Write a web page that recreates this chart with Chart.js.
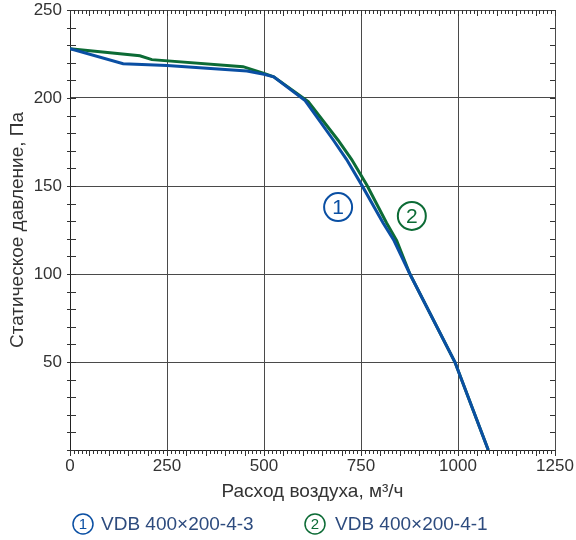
<!DOCTYPE html>
<html><head><meta charset="utf-8">
<script src="https://cdn.jsdelivr.net/npm/chart.js@4.4.1/dist/chart.umd.min.js"></script>
<style>html,body{margin:0;padding:0;background:#fff;}#wrap{width:576px;height:540px;}</style>
</head><body><div id="wrap"><canvas id="c" width="576" height="540"></canvas></div>
<script>
// ---- data ----
const xTicks = [0, 250, 500, 750, 1000, 1250];
const yTicks = [0, 50, 100, 150, 200, 250];
const flow1 = [0, 137, 250, 456, 500, 525, 606, 679, 713, 752, 807, 835, 876, 992, 1078];
const pres1 = [228, 219.5, 218.5, 215.3, 213.5, 212, 198.5, 176, 165, 150.5, 129, 119, 100, 50, 0];
const flow2 = [0, 180, 211, 446, 500, 525, 614, 691, 726, 765, 816, 842, 876, 992, 1078];
const pres2 = [228, 224, 221.8, 217.8, 214, 212, 198, 176, 165, 150.6, 129, 119, 100, 50, 0];
const seriesNames = ['VDB 400×200-4-3', 'VDB 400×200-4-1'];
const seriesMarks = ['1', '2'];
const xTitle = 'Расход воздуха, м³/ч';
const yTitle = 'Статическое давление, Па';

const BLUE = '#0a4fa3', GREEN = '#0c6b35';
Chart.defaults.font.family = '"Liberation Sans", Arial, sans-serif';

function circledMark(ctx, cx, cy, r, digit, color, lw, fs) {
  ctx.save();
  ctx.strokeStyle = color; ctx.lineWidth = lw;
  ctx.beginPath(); ctx.arc(cx, cy, r, 0, Math.PI * 2); ctx.stroke();
  ctx.fillStyle = color;
  ctx.font = fs + 'px "Liberation Sans", Arial, sans-serif';
  ctx.textAlign = 'center'; ctx.textBaseline = 'middle';
  ctx.fillText(digit, cx, cy + 1);
  ctx.restore();
}

const decor = {
  id: 'decor',
  afterDraw(chart) {
    const {ctx, chartArea: a, scales: {x, y}} = chart;
    ctx.save();
    ctx.strokeStyle = '#333'; ctx.lineWidth = 1;
    ctx.beginPath();
    for (let v = 0; v <= 1250; v += 10) {
      const px = Math.round(x.getPixelForValue(v)) + 0.5;
      const L = (v % 50 === 0) ? 6 : 4;
      ctx.moveTo(px, a.bottom); ctx.lineTo(px, a.bottom + L);
      ctx.moveTo(px, a.top); ctx.lineTo(px, a.top + L);
    }
    for (let v = 0; v <= 250; v += 10) {
      const py = Math.round(y.getPixelForValue(v)) + 0.5;
      ctx.moveTo(a.left - 3, py); ctx.lineTo(a.left + 6, py);
      ctx.moveTo(a.right, py); ctx.lineTo(a.right - 5, py);
    }
    ctx.stroke();
    ctx.restore();
    // curve labels
    circledMark(ctx, x.getPixelForValue(691), y.getPixelForValue(138), 14, seriesMarks[0], BLUE, 2, 21);
    circledMark(ctx, x.getPixelForValue(881), y.getPixelForValue(133), 14, seriesMarks[1], GREEN, 2, 21);
    // legend
    const ly = 524;
    const items = [{cx: 83, tx: 101, c: BLUE}, {cx: 315, tx: 335, c: GREEN}];
    items.forEach((it, i) => {
      circledMark(ctx, it.cx, ly, 10, seriesMarks[i], it.c, 1.5, 15);
      ctx.save();
      ctx.fillStyle = '#2d4b7e';
      ctx.font = '19px "Liberation Sans", Arial, sans-serif';
      ctx.textAlign = 'left'; ctx.textBaseline = 'middle';
      ctx.fillText(seriesNames[i], it.tx, ly + 1);
      ctx.restore();
    });
  }
};

new Chart(document.getElementById('c'), {
  type: 'line',
  data: {
    datasets: [
      {label: seriesNames[0], data: flow1.map((v, i) => ({x: v, y: pres1[i]})), borderColor: BLUE, borderWidth: 3, pointRadius: 0, tension: 0},
      {label: seriesNames[1], data: flow2.map((v, i) => ({x: v, y: pres2[i]})), borderColor: GREEN, borderWidth: 3, pointRadius: 0, tension: 0}
    ]
  },
  options: {
    responsive: false, animation: false, devicePixelRatio: 1,
    layout: {padding: {left: 0, top: 10, right: 21, bottom: 37}},
    plugins: {legend: {display: false}, tooltip: {enabled: false}},
    scales: {
      x: {
        type: 'linear', min: 0, max: 1250,
        afterBuildTicks: s => { s.ticks = xTicks.map(v => ({value: v})); },
        afterFit: s => { s.height = 53; s.paddingLeft = 0; s.paddingRight = 0; },
        ticks: {color: '#333', font: {size: 17}, padding: 6, maxRotation: 0, autoSkip: false, callback: v => String(v)},
        grid: {color: '#4a4a4a', lineWidth: 1, drawTicks: false},
        border: {color: '#222', width: 1},
        title: {display: true, text: xTitle, color: '#333', font: {size: 19}, padding: {top: 0, bottom: 0}}
      },
      y: {
        type: 'linear', min: 0, max: 250,
        afterBuildTicks: s => { s.ticks = yTicks.map(v => ({value: v})); },
        afterFit: s => { s.width = 70; s.paddingTop = 0; s.paddingBottom = 0; },
        ticks: {color: '#333', font: {size: 17}, padding: 8, autoSkip: false, callback: v => v === 0 ? '' : String(v)},
        grid: {color: '#4a4a4a', lineWidth: 1, drawTicks: false},
        border: {color: '#222', width: 1},
        title: {display: true, text: yTitle, color: '#333', font: {size: 19}, padding: {top: 6, bottom: 0}}
      }
    }
  },
  plugins: [decor]
});
</script></body></html>
